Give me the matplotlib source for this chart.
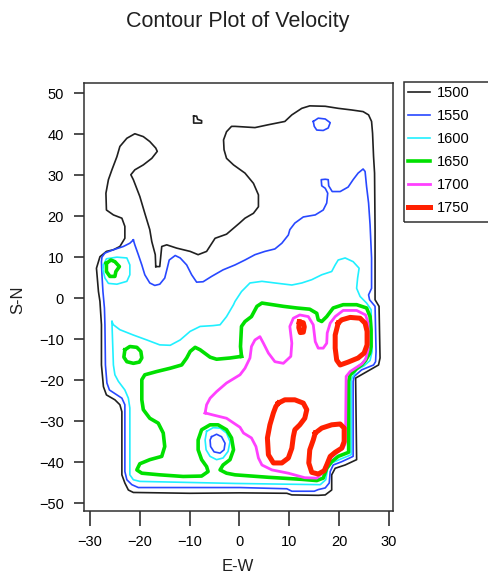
import matplotlib
matplotlib.use("Agg")
import matplotlib.pyplot as plt
from matplotlib.lines import Line2D
from matplotlib.patches import Rectangle

plt.rcParams['font.family'] = ['Liberation Sans', 'DejaVu Sans']

# ---------------- data (contour paths, in E-W / S-N units) ----------------
levels = [1500, 1550, 1600, 1650, 1700, 1750]
colors = ['#202020', '#2848ff', '#20f0ff', '#00e000', '#ff40ff', '#ff2000']
widths = [1.2, 1.2, 1.2, 2.6, 2.0, 3.6]

c1500_x = [-16.8, -16.9, -17.6, -18.0, -19.0, -20.0, -21.3, -21.8, -21.0, -19.3, -17.6, -16.5, -16.8,
           -18.0, -19.3, -21.0, -22.6, -24.0, -24.6, -25.6, -26.3, -26.8, -26.7, -25.3, -23.6, -23.0,
           -23.0, -24.0, -25.3, -26.7, -28.0, -28.3, -28.7, -28.3, -28.0, -27.7, -27.7, -27.3, -26.7,
           -25.0, -24.0, -23.6, -23.6, -23.0, -22.3, -21.3, -10.0, 0.0, 9.5, 10.5, 15.8, 17.2, 18.5,
           18.5, 19.2, 21.2, 23.5, 23.3, 27.9, 28.2, 28.0, 27.2, 27.2, 27.1, 26.9, 26.7, 26.5, 25.9,
           24.8, 22.5, 19.8, 17.2, 14.1, 12.5, 10.5, 9.1, 5.8, 3.1, -0.9, -1.6, -2.6, -3.2, -3.1, -2.6,
           -1.2, 1.1, 2.8, 3.8, 3.8, 2.8, 1.1, 0.0, -2.6, -4.9, -6.6, -8.3, -9.9, -12.6, -14.6, -15.6,
           -16.0, -16.8]
c1500_y = [7.7, 10.6, 13.8, 16.7, 20.7, 24.8, 28.9, 30.1, 31.3, 32.5, 34.1, 35.8, 36.6,
           38.2, 39.4, 40.1, 39.0, 37.0, 34.5, 31.3, 28.9, 25.6, 21.5, 20.3, 19.5, 17.5,
           14.6, 12.6, 11.8, 11.4, 10.1, 8.9, 7.3, 1.6, -0.8, -6.5, -16.3, -21.6, -23.6,
           -24.8, -26.0, -27.7, -43.1, -45.1, -46.8, -47.4, -47.6, -47.5, -47.6, -48.0, -48.1, -48.0, -46.8,
           -43.1, -41.5, -40.7, -39.4, -19.5, -16.3, -14.6, -2.0, -0.4, 16.7, 30.5, 34.5, 40.2, 43.1, 44.7,
           45.5, 45.9, 46.3, 46.8, 46.9, 46.3, 44.7, 43.1, 42.3, 41.6, 41.9, 41.9, 40.6, 38.6, 36.2, 34.1,
           32.5, 30.5, 28.0, 25.2, 22.3, 20.7, 19.5, 18.3, 15.6, 14.6, 11.4, 10.6, 11.4, 12.2, 13.0, 12.6,
           7.7, 7.7]

c1500s_x = [-9.2, -8.6, -8.4, -7.6, -7.6, -9.2, -9.2]
c1500s_y = [44.4, 44.4, 43.6, 43.3, 42.7, 42.7, 44.4]

c1550_x = [-21.3, -22.0, -23.3, -25.3, -27.0, -27.6, -27.7, -27.6, -27.4, -27.1, -27.0, -26.9, -26.6,
           -26.1, -24.6, -23.6, -23.0, -23.0, -22.6, -21.6, -20.3, 0.1, 9.5, 10.5, 15.0, 15.8, 17.2,
           18.0, 18.2, 18.8, 20.5, 22.8, 22.8, 23.0, 24.5, 26.9, 27.3, 27.4, 27.2, 26.1, 25.9, 26.5,
           26.5, 26.2, 25.9, 25.5, 25.2, 24.8, 23.8, 22.8, 21.8, 20.2, 18.6, 17.9, 17.8, 17.2, 16.4,
           16.5, 17.2, 17.7, 17.5, 16.8, 15.2, 12.8, 11.1, 10.1, 9.8, 8.5, 7.1, 5.1, 3.1, 1.1, -0.9,
           -3.3, -5.6, -7.3, -8.6, -9.6, -10.6, -11.9, -12.9, -14.1, -14.5, -15.0, -16.0, -17.0, -18.0,
           -19.0, -19.6, -20.3, -21.0, -21.3]
c1550_y = [14.2, 13.4, 12.6, 11.8, 11.0, 10.0, 8.9, 5.7, 1.6, -2.4, -6.5, -16.3, -20.7,
           -22.4, -23.6, -24.4, -26.0, -42.3, -44.3, -45.5, -46.2, -46.2, -46.5, -47.1, -47.1, -46.7, -46.3,
           -45.1, -42.3, -40.7, -39.9, -38.6, -20.3, -19.1, -17.5, -16.3, -15.5, -13.0, -2.0, -0.4, 0.8, 2.4,
           9.8, 17.9, 23.2, 27.2, 30.9, 31.5, 30.5, 28.9, 27.1, 26.0, 26.0, 27.4, 28.9, 29.0, 28.9,
           27.4, 26.8, 25.6, 23.2, 21.5, 20.3, 19.8, 18.3, 16.7, 15.4, 13.4, 12.0, 11.4, 10.6, 9.3, 8.1,
           6.9, 5.3, 4.0, 3.9, 5.7, 8.1, 9.8, 10.4, 9.3, 7.3, 4.9, 3.4, 3.1, 3.7,
           5.7, 8.1, 10.6, 13.0, 14.2]

c1550a_x = [14.8, 15.8, 17.2, 18.2, 17.8, 16.8, 15.5, 15.0, 14.8]
c1550a_y = [43.1, 43.9, 43.7, 42.8, 41.5, 40.9, 41.0, 41.9, 43.1]

c1550b_x = [-5.6, -4.6, -3.6, -2.9, -3.1, -3.9, -5.1, -5.8, -5.9, -5.6]
c1550b_y = [-33.8, -33.2, -33.8, -35.4, -37.0, -37.8, -37.5, -36.2, -34.6, -33.8]

c1600_x = [-25.6, -25.3, -24.0, -21.3, -18.6, -16.0, -13.9, -11.9, -9.9, -7.9, -5.3, -3.9, -2.6,
           -1.2, -0.9, 0.4, 2.1, 4.5, 7.1, 10.5, 12.5, 14.5, 16.5, 18.5, 19.2, 19.8, 21.2, 22.8, 24.0,
           23.7, 23.5, 24.2, 25.5, 26.4, 26.6, 26.2, 25.0, 23.5, 22.4, 22.4, 20.2, 18.5, 17.7, 17.3,
           16.2, -0.9, -20.0, -21.3, -22.0, -22.0, -22.3, -23.0, -24.3, -25.0, -25.3, -25.6]
c1600_y = [-5.7, -6.5, -7.7, -9.0, -10.2, -11.4, -11.5, -10.2, -8.1, -6.9, -6.7, -6.5, -4.5,
           -1.6, -0.8, 1.6, 3.7, 4.1, 3.7, 3.2, 3.7, 4.5, 5.7, 6.5, 8.1, 9.3, 9.8, 8.9, 7.3,
           4.9, 2.4, 0.4, -1.2, -2.8, -13.0, -15.2, -16.5, -17.5, -19.9, -38.2, -39.3, -40.2, -41.6, -44.3,
           -45.5, -45.2, -44.7, -44.3, -43.1, -26.8, -24.4, -22.4, -20.3, -18.7, -16.3, -5.7]

c1600a_x = [-27.3, -26.7, -24.6, -22.6, -22.0, -22.0, -22.6, -24.6, -26.3, -27.0, -27.4, -27.3]
c1600a_y = [8.1, 9.6, 10.0, 9.8, 8.1, 5.7, 4.1, 3.4, 3.6, 4.9, 6.9, 8.1]

c1600b_x = [-6.6, -5.3, -3.9, -2.6, -1.9, -2.3, -3.3, -4.6, -5.9, -6.7, -6.9, -6.6]
c1600b_y = [-32.5, -31.6, -31.7, -32.9, -35.0, -37.4, -39.0, -39.4, -38.6, -37.0, -34.6, -32.5]

c1650_x = [0.4, 0.2, 0.4, 1.1, 2.4, 3.5, 4.5, 6.1, 8.8, 11.5, 14.1, 15.5, 15.8, 16.5, 17.5, 18.8,
           20.8, 23.5, 25.5, 26.2, 26.4, 26.4, 26.1, 25.3, 24.6, 23.6, 22.2, 21.9, 21.9, 19.8, 18.5,
           17.5, 16.8, 15.5, 12.5, 5.8, -0.9, -2.6, -3.9, -3.3, -1.9, -1.2, -1.6, -2.6, -4.3, -5.9,
           -7.6, -8.3, -8.3, -7.6, -6.6, -6.3, -7.6, -11.3, -16.0, -19.6, -20.6, -20.0, -18.0, -15.6,
           -15.0, -15.3, -16.3, -18.0, -19.3, -19.6, -19.6, -19.0, -16.6, -13.9, -11.6, -10.6, -9.9,
           -8.9, -7.9, -5.9, -4.6, -1.9, 0.4]
c1650_y = [-14.2, -11.8, -6.9, -5.7, -4.5, -2.0, -1.2, -1.5, -2.0, -2.4, -2.7, -3.7, -5.3, -5.7, -4.5, -2.4,
           -1.6, -1.6, -2.4, -4.5, -7.7, -11.8, -13.5, -15.2, -16.2, -17.1, -18.7, -20.3, -37.6, -38.6, -39.9,
           -41.5, -43.9, -44.5, -44.2, -43.7, -43.1, -42.7, -41.9, -40.7, -39.4, -37.0, -34.1, -32.1, -30.9, -30.9,
           -32.1, -34.6, -37.0, -39.4, -41.1, -42.3, -43.4, -43.5, -43.1, -42.7, -41.9, -40.4, -39.4, -38.6,
           -36.2, -32.9, -30.5, -29.3, -27.2, -24.8, -19.9, -18.7, -17.9, -17.1, -16.3, -14.6, -13.0,
           -12.0, -12.6, -14.4, -14.9, -14.6, -14.2]

c1650a_x = [-26.7, -25.8, -25.0, -24.1, -24.8, -25.0, -26.0, -26.7, -26.7]
c1650a_y = [8.5, 9.3, 8.9, 7.7, 6.5, 5.3, 5.3, 6.5, 8.5]

c1650b_x = [-23.0, -22.0, -20.6, -19.8, -19.6, -20.1, -21.3, -22.6, -23.2, -23.0]
c1650b_y = [-12.6, -11.8, -12.0, -13.0, -14.6, -15.6, -15.9, -15.5, -14.4, -12.6]

c1700_x = [-6.9, -6.6, -5.9, -4.6, -2.6, 0.1, 1.1, 2.1, 2.4, 3.1, 4.1, 4.8, 5.8, 7.1, 8.8, 10.3,
           10.5, 10.1, 10.8, 12.1, 13.8, 14.8, 15.2, 15.8, 16.8, 17.5, 17.6, 18.2, 19.2, 20.8, 23.5,
           25.3, 25.8, 25.8, 25.3, 24.6, 22.2, 21.4, 21.3, 21.2, 20.8, 19.2, 18.0, 17.2, 16.6, 15.5,
           13.1, 9.8, 6.5, 4.5, 3.8, 3.3, 2.4, 0.8, 0.1, -2.6, -5.3, -6.9]
c1700_y = [-28.0, -26.0, -24.4, -22.8, -20.7, -18.7, -17.1, -14.6, -11.8, -10.2, -9.4, -11.0, -13.4, -15.5, -15.9, -14.2,
           -11.0, -6.9, -4.9, -4.1, -4.5, -6.5, -10.6, -12.2, -12.2, -11.0, -8.5, -6.1, -4.5, -3.0, -3.0,
           -4.1, -6.1, -12.6, -14.9, -16.0, -17.9, -19.1, -31.3, -35.5, -36.6, -38.0, -39.4, -41.1, -42.7, -43.9,
           -43.8, -42.7, -41.9, -40.7, -39.0, -36.2, -34.1, -32.9, -31.5, -29.3, -28.5, -28.0]

c1750a_x = [19.8, 20.5, 22.2, 24.2, 25.2, 25.6, 25.6, 25.0, 23.8, 21.8, 20.2, 19.5, 19.2, 19.2, 19.8]
c1750a_y = [-6.1, -5.3, -4.7, -4.9, -6.1, -8.1, -11.4, -13.4, -14.6, -15.6, -16.3, -15.1, -12.2, -9.0, -6.1]

c1750b_x = [7.8, 9.1, 11.1, 12.8, 13.5, 13.1, 12.1, 11.1, 10.8, 10.5, 9.8, 8.5, 6.8, 5.8, 5.6, 6.1,
            6.8, 7.3, 7.8]
c1750b_y = [-25.6, -24.8, -24.8, -25.6, -27.2, -29.3, -30.9, -32.1, -33.8, -36.6, -39.0, -40.2, -40.2,
            -38.2, -34.1, -30.9, -28.0, -26.4, -25.6]

c1750c_x = [15.2, 16.5, 18.5, 20.2, 21.0, 21.0, 20.5, 19.2, 18.2, 17.5, 17.0, 15.8, 14.5, 13.9, 14.1,
            14.8, 15.2]
c1750c_y = [-32.9, -31.7, -30.9, -30.7, -31.7, -35.0, -36.6, -37.6, -38.6, -40.7, -42.1, -42.9, -42.5,
            -40.2, -37.0, -34.6, -32.9]

c1750d_x = [12.0, 12.8, 13.0, 12.8, 12.2, 11.9, 12.0]
c1750d_y = [-5.8, -6.0, -7.0, -8.3, -8.4, -7.2, -5.8]

xticks = [-30, -20, -10, 0, 10, 20, 30]
yticks = [-50, -40, -30, -20, -10, 0, 10, 20, 30, 40, 50]

paths = [
    (0, c1500_x, c1500_y), (0, c1500s_x, c1500s_y),
    (1, c1550_x, c1550_y), (1, c1550a_x, c1550a_y), (1, c1550b_x, c1550b_y),
    (2, c1600_x, c1600_y), (2, c1600a_x, c1600a_y), (2, c1600b_x, c1600b_y),
    (3, c1650_x, c1650_y), (3, c1650a_x, c1650a_y), (3, c1650b_x, c1650b_y),
    (4, c1700_x, c1700_y),
    (5, c1750a_x, c1750a_y), (5, c1750b_x, c1750b_y), (5, c1750c_x, c1750c_y), (5, c1750d_x, c1750d_y),
]

# ---------------- figure ----------------
W, H = 489, 575
fig = plt.figure(figsize=(W / 100, H / 100), dpi=100)
ax = fig.add_axes([84 / W, 1 - 510.5 / H, (393 - 84) / W, (510.5 - 82.5) / H])

for i, xs, ys in paths:
    ax.plot(xs, ys, color=colors[i], lw=widths[i], solid_joinstyle='round')

ax.set_xlim(-31.2, 30.8)
ax.set_ylim(-51.8, 52.6)
ax.set_xticks(xticks)
ax.set_yticks(yticks)
ax.tick_params(axis='x', length=11, width=1.2, pad=7, labelsize=10.5, color='#303030')
ax.tick_params(axis='y', length=7.5, width=1.2, pad=7, labelsize=10.5, color='#303030')
for s in ax.spines.values():
    s.set_linewidth(1.1)
    s.set_color('#303030')

fig.text(237.7 / W, 1 - 27.3 / H, 'Contour Plot of Velocity', ha='center', va='baseline',
         fontsize=15.5, color='#202020')
fig.text(238 / W, 1 - 571 / H, 'E-W', ha='center', va='baseline', fontsize=12, color='#202020')
fig.text(18 / W, 1 - 300 / H, 'S-N', ha='center', va='center', rotation=90, fontsize=12,
         color='#202020')

# legend
handles = [Line2D([], [], color=colors[i], lw=widths[i]) for i in range(len(levels))]
fig.legend(handles, [str(v) for v in levels], loc='upper left',
           bbox_to_anchor=(404 / W, 1 - 82.3 / H), frameon=False, fontsize=10.5,
           handlelength=1.5, handletextpad=0.5, labelspacing=0.62, borderpad=0.25,
           borderaxespad=0)
fig.patches.append(Rectangle((404 / W, 1 - 222.3 / H), 0.3, 140 / H, transform=fig.transFigure,
                             fill=False, lw=1.1, edgecolor='#303030', clip_on=False))

fig.savefig('out.png', dpi=100)
